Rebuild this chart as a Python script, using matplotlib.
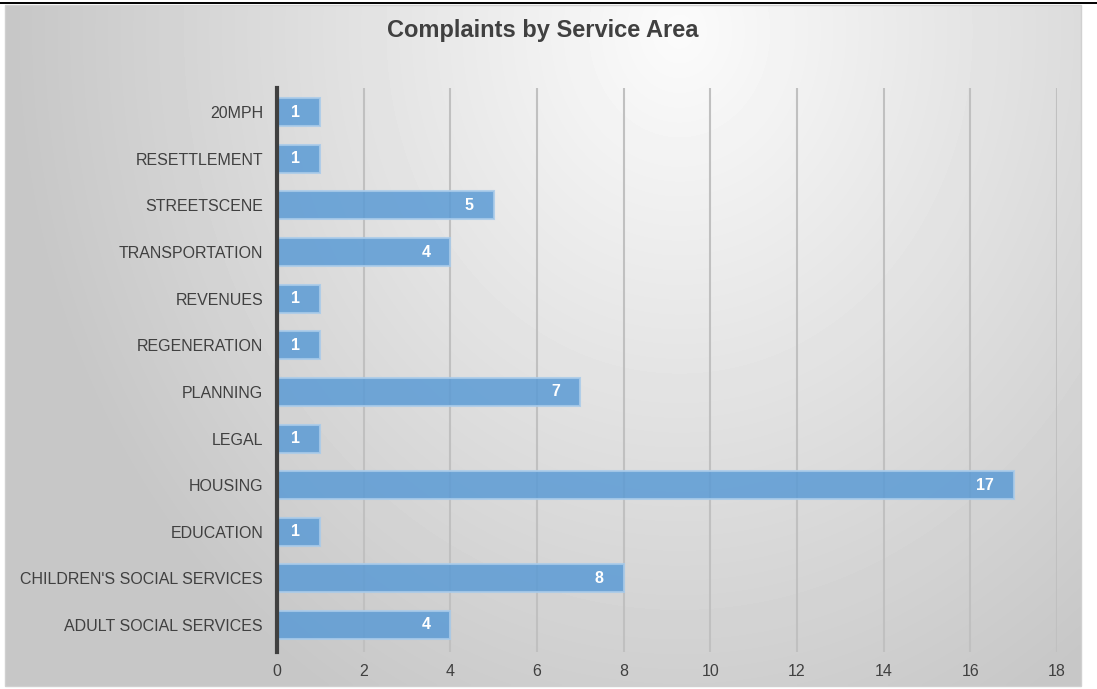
import numpy as np
import matplotlib.pyplot as plt
from matplotlib.patches import Rectangle
from matplotlib.lines import Line2D

plt.rcParams['font.family'] = ['Liberation Sans', 'DejaVu Sans']

areas = ["ADULT SOCIAL SERVICES", "CHILDREN'S SOCIAL SERVICES", "EDUCATION",
         "HOUSING", "LEGAL", "PLANNING", "REGENERATION", "REVENUES",
         "TRANSPORTATION", "STREETSCENE", "RESETTLEMENT", "20MPH"]
counts = [4, 8, 1, 17, 1, 7, 1, 1, 4, 5, 1, 1]
xticks = [0, 2, 4, 6, 8, 10, 12, 14, 16, 18]

W, H = 1097, 689
fig = plt.figure(figsize=(W / 100, H / 100), dpi=100)

# background: radial grey gradient in the chart box
bg = fig.add_axes([0, 0, 1, 1], zorder=-1)
bg.set_xlim(0, W)
bg.set_ylim(H, 0)
bg.axis("off")
x0, x1, y0, y1 = 5, 1081, 5, 686
gx, gy = np.meshgrid(np.linspace(x0, x1, 300), np.linspace(y0, y1, 200))
d = np.sqrt(((gx - 680) / 650) ** 2 + ((gy - 30) / 760) ** 2)
shade = np.clip(0.985 - 0.2 * d, 0.78, 1.0)
bg.imshow(shade, cmap="gray", vmin=0, vmax=1, extent=(x0, x1, y1, y0),
          aspect="auto", interpolation="bilinear")
bg.add_patch(Rectangle((x0, y0), x1 - x0, y1 - y0, fill=False,
                       edgecolor="#d0d0d0", lw=1))
bg.add_line(Line2D([0, W], [3, 3], color="black", lw=1.4))

ax = fig.add_axes([277 / W, 37 / H, 780 / W, 564 / H])
ax.patch.set_alpha(0)
y = np.arange(len(areas))
bars = ax.barh(y, counts, height=0.6, color="#5B9BD5", alpha=0.85,
               edgecolor="#a9cbea", linewidth=1.5, zorder=2)
for b, v in zip(bars, counts):
    ax.annotate(str(v), (v, b.get_y() + b.get_height() / 2),
                xytext=(-20, 0), textcoords="offset pixels",
                ha="right", va="center", color="white",
                fontsize=11.5, fontweight="bold", zorder=3)

ax.set_xlim(0, 18)
ax.set_ylim(-0.58, 11.52)
ax.set_xticks(xticks)
ax.set_yticks(y)
ax.set_yticklabels(areas)
ax.tick_params(length=0, labelsize=11.5, labelcolor="#404040")
ax.tick_params(axis="y", pad=10)
ax.tick_params(axis="x", pad=9)
ax.grid(axis="x", color="#c0c0c0", lw=1.5, zorder=0)
ax.set_axisbelow(True)
for s in ["top", "right", "bottom"]:
    ax.spines[s].set_visible(False)
ax.spines["left"].set_color("#404040")
ax.spines["left"].set_linewidth(3)

fig.text(543 / W, 1 - 30 / H, "Complaints by Service Area", ha="center",
         va="center", fontsize=17, fontweight="bold", color="#404040")

fig.savefig("out.png", dpi=100)
